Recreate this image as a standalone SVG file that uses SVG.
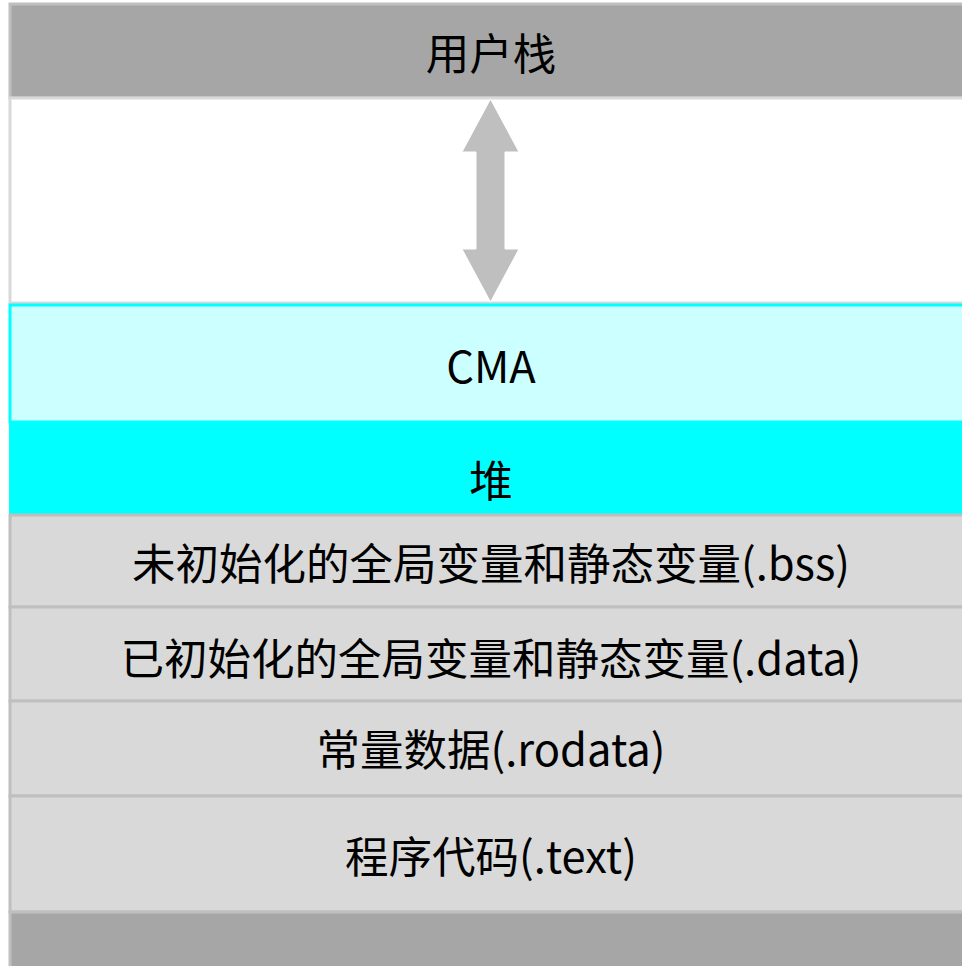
<svg xmlns="http://www.w3.org/2000/svg" width="962" height="966" viewBox="0 0 962 966">
<style>
.lbl{font-family:"Noto Sans CJK SC","Noto Sans",sans-serif;font-size:43.5px;fill:#000;text-anchor:middle;dominant-baseline:central}
.dark{fill:#a6a6a6;stroke:#bfbfbf;stroke-width:3}
.seg{fill:#d9d9d9;stroke:#bfbfbf;stroke-width:3}
</style>
<rect width="962" height="966" fill="#ffffff"/>
<g id="user-stack"><rect class="dark" x="10" y="4" width="960" height="94"/><text class="lbl" x="491" y="51">用户栈</text></g>
<g id="gap"><rect x="10" y="98" width="960" height="205" fill="#ffffff" stroke="#d9d9d9" stroke-width="3"/></g>
<g id="cma"><rect x="10" y="305" width="960" height="117" fill="#ccffff" stroke="#00ffff" stroke-width="3"/><text class="lbl" x="491" y="364">CMA</text></g>
<g id="heap"><rect x="9" y="422" width="962" height="93" fill="#00ffff"/><text class="lbl" x="491" y="478">堆</text></g>
<g id="bss"><rect class="seg" x="10" y="515" width="960" height="92"/><text class="lbl" x="491" y="561">未初始化的全局变量和静态变量(.bss)</text></g>
<g id="data"><rect class="seg" x="10" y="607" width="960" height="94"/><text class="lbl" x="491" y="656">已初始化的全局变量和静态变量(.data)</text></g>
<g id="rodata"><rect class="seg" x="10" y="701" width="960" height="95"/><text class="lbl" x="491" y="747">常量数据(.rodata)</text></g>
<g id="text"><rect class="seg" x="10" y="796" width="960" height="116"/><text class="lbl" x="491" y="854">程序代码(.text)</text></g>
<g id="bottom"><rect class="dark" x="10" y="912" width="960" height="60"/></g>
<g id="connectors"><polygon points="490.5,99 519,152 505,152 505,249 519,249 490.5,302 462,249 476,249 476,152 462,152" fill="#bfbfbf" stroke="#ffffff" stroke-width="1"/></g>
</svg>
